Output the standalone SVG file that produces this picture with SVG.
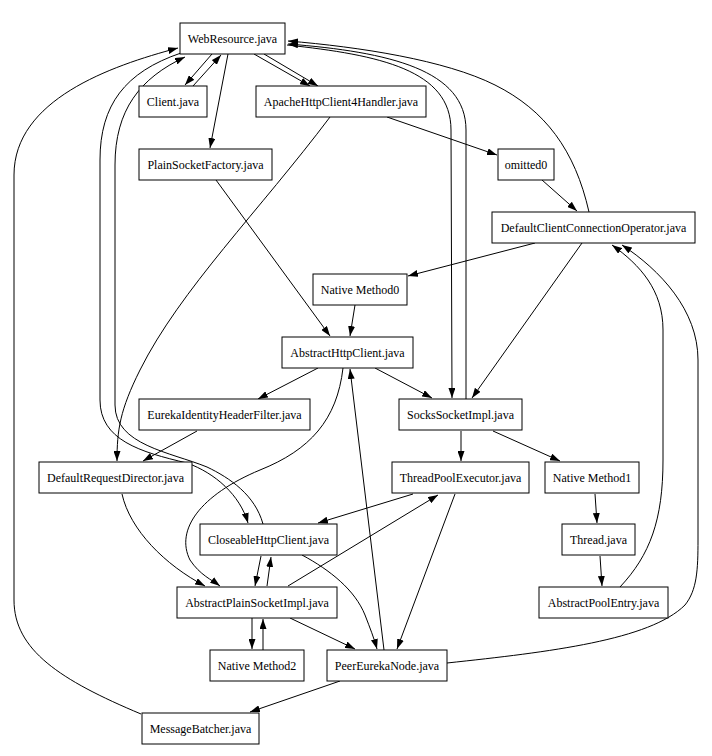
<svg xmlns="http://www.w3.org/2000/svg" width="712" height="756" viewBox="0 0 712 756">
<defs>
<marker id="ah" viewBox="0 0 10 7" refX="10" refY="3.5" markerWidth="10" markerHeight="7" markerUnits="userSpaceOnUse" orient="auto">
<path d="M0,0 L10,3.5 L0,7 z" fill="#000"/>
</marker>
<style>
.n rect{fill:#fff;stroke:#000;stroke-width:1}
.n text{font-family:"Liberation Serif","Times New Roman",serif;font-size:12px;fill:#000;text-anchor:middle}
#edges path{fill:none;stroke:#000;stroke-width:1;marker-end:url(#ah)}
</style>
</defs>
<rect width="712" height="756" fill="#fff"/>
<g id="edges">
<path d="M212,54 L185,85"/>
<path d="M193,86 L221,55"/>
<path d="M254,54 L310,86"/>
<path d="M264,54 L318,86"/>
<path d="M228,54 L210,148"/>
<path d="M141,714 C60,680 14,650 14,600 L14,175 C14,100 110,66 178,48"/>
<path d="M181,53 C125,72 100,105 100,160 L100,400 C100,440 140,452 187,463 C215,473 240,495 248,523"/>
<path d="M263,524 C255,495 230,478 207,467 C170,452 115,445 115,405 L115,165 C115,110 140,78 185,57"/>
<path d="M589,212 C575,150 545,110 495,85 C445,60 360,47 288,41"/>
<path d="M287,45 C380,55 451,70 451,130 L452,398"/>
<path d="M466,399 L466,130 C466,70 390,52 288,44"/>
<path d="M387,117 L497,155"/>
<path d="M330,117 C260,210 180,290 140,370 C120,410 117,430 117,461"/>
<path d="M216,180 L330,336"/>
<path d="M542,180 L577,211"/>
<path d="M535,243 L408,276"/>
<path d="M582,243 L472,398"/>
<path d="M620,587 C650,555 663,520 663,460 L663,330 C663,290 640,265 612,245"/>
<path d="M447,663 C550,652 650,640 685,605 C697,590 698,570 698,540 L698,360 C698,310 660,270 622,245"/>
<path d="M355,305 L350,336"/>
<path d="M318,368 L258,399"/>
<path d="M375,368 L432,398"/>
<path d="M343,368 C337,420 310,450 260,470 C200,495 175,530 190,560 C200,575 212,580 220,586"/>
<path d="M384,650 L350,369"/>
<path d="M197,431 L143,461"/>
<path d="M461,431 L461,461"/>
<path d="M493,431 L560,461"/>
<path d="M122,494 C130,530 165,565 205,586"/>
<path d="M413,494 L318,523"/>
<path d="M288,586 L438,495"/>
<path d="M455,494 L397,649"/>
<path d="M302,555 C330,570 355,590 365,615 C370,628 374,638 377,649"/>
<path d="M261,556 L255,586"/>
<path d="M267,586 L271,557"/>
<path d="M252,618 L252,649"/>
<path d="M263,650 L263,619"/>
<path d="M290,618 L355,649"/>
<path d="M340,681 L250,712"/>
<path d="M595,494 L597,523"/>
<path d="M600,556 L602,586"/>
</g>
<g id="n-webresource" class="n"><rect x="180" y="23" width="105" height="31"/><text x="232.5" y="43">WebResource.java</text></g>
<g id="n-client" class="n"><rect x="139" y="86" width="68" height="31"/><text x="173" y="106">Client.java</text></g>
<g id="n-apache" class="n"><rect x="256" y="86" width="170" height="31"/><text x="341" y="106">ApacheHttpClient4Handler.java</text></g>
<g id="n-plainsocketfactory" class="n"><rect x="139" y="149" width="133" height="31"/><text x="205.5" y="169">PlainSocketFactory.java</text></g>
<g id="n-omitted0" class="n"><rect x="498" y="149" width="56" height="31"/><text x="526" y="169">omitted0</text></g>
<g id="n-dcco" class="n"><rect x="492" y="212" width="203" height="31"/><text x="593.5" y="232">DefaultClientConnectionOperator.java</text></g>
<g id="n-native0" class="n"><rect x="313" y="274" width="94" height="31"/><text x="360" y="294">Native Method0</text></g>
<g id="n-abstracthttpclient" class="n"><rect x="282" y="337" width="131" height="31"/><text x="347.5" y="357">AbstractHttpClient.java</text></g>
<g id="n-eureka" class="n"><rect x="139" y="399" width="171" height="31"/><text x="224.5" y="419">EurekaIdentityHeaderFilter.java</text></g>
<g id="n-socks" class="n"><rect x="399" y="399" width="123" height="31"/><text x="460.5" y="419">SocksSocketImpl.java</text></g>
<g id="n-drd" class="n"><rect x="39" y="462" width="153" height="31"/><text x="115.5" y="482">DefaultRequestDirector.java</text></g>
<g id="n-tpe" class="n"><rect x="392" y="462" width="137" height="31"/><text x="460.5" y="482">ThreadPoolExecutor.java</text></g>
<g id="n-native1" class="n"><rect x="545" y="462" width="94" height="31"/><text x="592" y="482">Native Method1</text></g>
<g id="n-closeable" class="n"><rect x="200" y="524" width="137" height="31"/><text x="268.5" y="544">CloseableHttpClient.java</text></g>
<g id="n-thread" class="n"><rect x="562" y="524" width="73" height="31"/><text x="598.5" y="544">Thread.java</text></g>
<g id="n-apsi" class="n"><rect x="177" y="587" width="160" height="31"/><text x="257" y="607">AbstractPlainSocketImpl.java</text></g>
<g id="n-ape" class="n"><rect x="539" y="587" width="129" height="31"/><text x="603.5" y="607">AbstractPoolEntry.java</text></g>
<g id="n-native2" class="n"><rect x="210" y="650" width="94" height="31"/><text x="257" y="670">Native Method2</text></g>
<g id="n-peer" class="n"><rect x="327" y="650" width="120" height="31"/><text x="387" y="670">PeerEurekaNode.java</text></g>
<g id="n-batcher" class="n"><rect x="142" y="713" width="117" height="31"/><text x="200.5" y="733">MessageBatcher.java</text></g>
</svg>
